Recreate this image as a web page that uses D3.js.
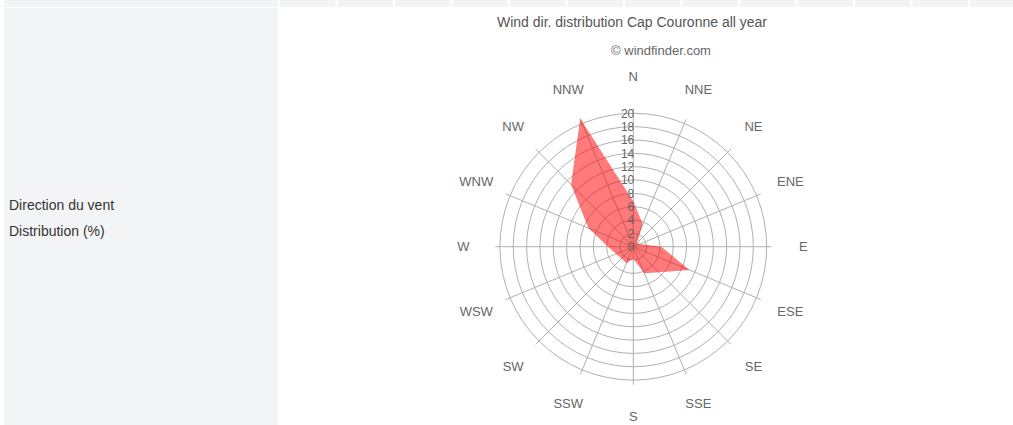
<!DOCTYPE html>
<html>
<head>
<meta charset="utf-8">
<script src="https://cdn.jsdelivr.net/npm/d3@7/dist/d3.min.js"></script>
<style>
  html, body { margin: 0; padding: 0; background: #fff; }
  svg { display: block; font-family: "Liberation Sans", Arial, Helvetica, sans-serif; }
</style>
</head>
<body>
<svg id="chart" width="1013" height="425"></svg>
<script>
// Wind direction distribution (% of the year), clockwise from north
const directions = ["N", "NNE", "NE", "ENE", "E", "ESE", "SE", "SSE",
                    "S", "SSW", "SW", "WSW", "W", "WNW", "NW", "NNW"];
const distribution = [6.8, 3.7, 0.8, 1.1, 4.2, 9.1, 5.4, 4.3,
                      1.8, 2.7, 2.5, 2.8, 3.8, 7.3, 13.2, 20.8];
const radialTicks = [0, 2, 4, 6, 8, 10, 12, 14, 16, 18, 20];
const rowLabels = ["Direction du vent", "Distribution (%)"];
const chartTitle = "Wind dir. distribution Cap Couronne all year";
const chartCredit = "\u00a9 windfinder.com";

const svg = d3.select("#chart");
const W = 1013, H = 425;
const cellBg = "#f3f4f6";

// table background: header strip + left label cell
const header = svg.append("g");
header.append("rect").attr("x", 4).attr("y", 0).attr("width", 274).attr("height", 7).attr("fill", cellBg);
d3.range(13).forEach(i => {
  const x0 = 280 + i * 57.5;
  header.append("rect").attr("x", x0).attr("y", 0)
    .attr("width", Math.min(55.5, W - x0)).attr("height", 7).attr("fill", cellBg);
});
svg.append("rect").attr("x", 4).attr("y", 8).attr("width", 274).attr("height", H - 8).attr("fill", cellBg);

svg.selectAll("text.rowlabel").data(rowLabels).join("text")
  .attr("class", "rowlabel")
  .attr("x", 9).attr("y", (d, i) => 210 + i * 26)
  .attr("font-size", 14).attr("fill", "#333")
  .text(d => d);

// title and credit
svg.append("text").attr("x", 632).attr("y", 26.5).attr("text-anchor", "middle")
  .attr("font-size", 14).attr("fill", "#555").text(chartTitle);
svg.append("text").attr("x", 661).attr("y", 54.5).attr("text-anchor", "middle")
  .attr("font-size", 13).attr("fill", "#666").text(chartCredit);

// polar scales
const cx = 633.3, cy = 246.7;
const r = d3.scaleLinear().domain([0, 20]).range([0, 133.4]);
const angle = d3.scaleBand().domain(directions).range([0, 2 * Math.PI]).align(0).paddingInner(0).paddingOuter(0);
const theta = d => angle(d); // N at 0, clockwise
const spokeEnd = r(20.7);

const g = svg.append("g").attr("transform", `translate(${cx},${cy})`);
const gridColor = "#b0b0b0";

// concentric rings
g.append("g").selectAll("circle").data(radialTicks.filter(t => t > 0)).join("circle")
  .attr("r", d => r(d)).attr("fill", "none").attr("stroke", gridColor).attr("stroke-width", 1);

// direction spokes
g.append("g").selectAll("line").data(directions).join("line")
  .attr("x1", 0).attr("y1", 0)
  .attr("x2", d => spokeEnd * Math.sin(theta(d)))
  .attr("y2", d => -spokeEnd * Math.cos(theta(d)))
  .attr("stroke", gridColor).attr("stroke-width", 1);

// distribution area
const radial = d3.lineRadial()
  .angle((d, i) => theta(directions[i]))
  .radius(d => r(d))
  .curve(d3.curveLinearClosed);
g.append("path").datum(distribution)
  .attr("d", radial)
  .attr("fill", "rgba(255,0,0,0.52)").attr("stroke", "none");

// radial tick labels along the north spoke
g.append("g").selectAll("text").data(radialTicks).join("text")
  .attr("x", 1).attr("y", d => -r(d))
  .attr("dy", "0.35em").attr("text-anchor", "end")
  .attr("font-size", 12).attr("fill", "#666")
  .text(d => d);

// compass labels
const labelR = 170;
g.append("g").selectAll("text").data(directions).join("text")
  .attr("x", d => labelR * Math.sin(theta(d)))
  .attr("y", d => -labelR * Math.cos(theta(d)))
  .attr("dy", "0.35em").attr("text-anchor", "middle")
  .attr("font-size", 13).attr("fill", "#666")
  .text(d => d);
</script>
</body>
</html>
